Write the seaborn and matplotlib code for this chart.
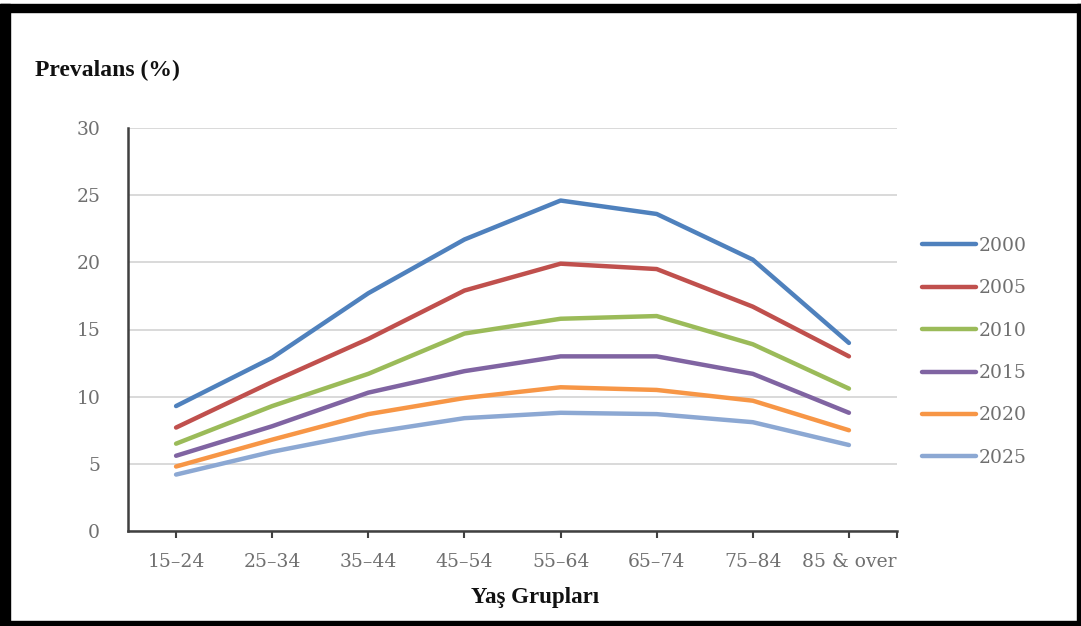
import matplotlib
matplotlib.use("Agg")
import matplotlib.pyplot as plt
import seaborn as sns
import pandas as pd
from matplotlib.patches import Rectangle

age_groups = ["15–24", "25–34", "35–44", "45–54", "55–64", "65–74", "75–84", "85 & over"]
years = ["2000", "2005", "2010", "2015", "2020", "2025"]
v2000 = [9.3, 12.9, 17.7, 21.7, 24.6, 23.6, 20.2, 14.0]
v2005 = [7.7, 11.1, 14.3, 17.9, 19.9, 19.5, 16.7, 13.0]
v2010 = [6.5, 9.3, 11.7, 14.7, 15.8, 16.0, 13.9, 10.6]
v2015 = [5.6, 7.8, 10.3, 11.9, 13.0, 13.0, 11.7, 8.8]
v2020 = [4.8, 6.8, 8.7, 9.9, 10.7, 10.5, 9.7, 7.5]
v2025 = [4.2, 5.9, 7.3, 8.4, 8.8, 8.7, 8.1, 6.4]
series = [v2000, v2005, v2010, v2015, v2020, v2025]
colors = ["#4F81BD", "#C0504D", "#9BBB59", "#8064A2", "#F79646", "#8CA8D3"]

rows = []
for yr, vals in zip(years, series):
    for i, v in enumerate(vals):
        rows.append({"pos": i, "age": age_groups[i], "year": yr, "value": v})
df = pd.DataFrame(rows)

sns.set_theme(style="white")
plt.rcParams["font.family"] = ["DejaVu Serif"]

fig = plt.figure(figsize=(10.81, 6.26), dpi=100)
ax = fig.add_axes([128/1081, 1-531/626, (897-128)/1081, (531-128)/626])

sns.lineplot(data=df, x="pos", y="value", hue="year", palette=colors,
             linewidth=3.2, ax=ax, legend=True, solid_capstyle="round")

ax.set_xlim(-0.5, 7.5)
ax.set_ylim(0, 30)
ax.set_yticks([0, 5, 10, 15, 20, 25, 30])
ax.set_xticks(range(len(age_groups)))
ax.set_xticklabels(age_groups)
ax.set_xticks([7.5], minor=True)
ax.yaxis.grid(True, color="#D9D9D9", linewidth=1.4)
ax.set_axisbelow(True)
ax.set_xlabel("")
ax.set_ylabel("")

for s in ["top", "right"]:
    ax.spines[s].set_visible(False)
for s in ["left", "bottom"]:
    ax.spines[s].set_color("#404040")
    ax.spines[s].set_linewidth(1.8)

ax.tick_params(axis="x", which="both", direction="out", length=5, width=1.5,
               color="#404040", bottom=True, pad=11, labelsize=13.5, labelcolor="#707070")
ax.tick_params(axis="y", length=0, pad=20, labelsize=13.5, labelcolor="#707070")

handles, labels = ax.get_legend_handles_labels()
ax.legend_.remove()
leg = fig.legend(handles, labels, loc="upper left", bbox_to_anchor=(922/1081, 1-237/626),
                 frameon=False, fontsize=13.5, handlelength=2.9, handletextpad=0.1,
                 labelspacing=1.3, borderpad=0, borderaxespad=0)
for t in leg.get_texts():
    t.set_color("#707070")
for h in leg.get_lines():
    h.set_linewidth(3.2)

fig.text(35/1081, 1-70/626, "Prevalans (%)", fontsize=17, fontweight="bold",
         ha="left", va="center", color="#111111", family="Liberation Serif")
fig.text(535/1081, 1-598/626, "Yaş Grupları", fontsize=16.5, fontweight="bold",
         ha="center", va="center", color="#111111", family="Liberation Serif")

# black frame
fig.patches.append(Rectangle((0, 0), 10/1081, 1-4/626, transform=fig.transFigure, color="black"))
fig.patches.append(Rectangle((0, 1-12/626), 1, 8/626, transform=fig.transFigure, color="black"))
fig.patches.append(Rectangle((1077/1081, 0), 4/1081, 1-4/626, transform=fig.transFigure, color="black"))
fig.patches.append(Rectangle((0, 0), 1, 5/626, transform=fig.transFigure, color="black"))

fig.savefig("out.png", dpi=100)
